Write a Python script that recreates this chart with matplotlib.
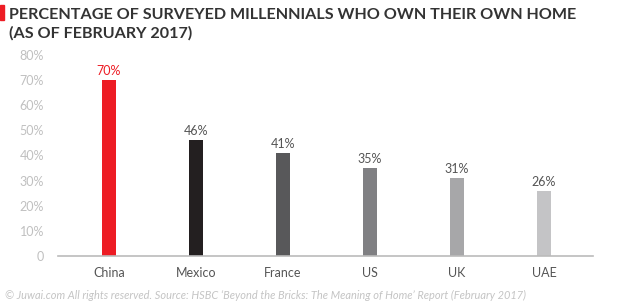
import numpy as np
import matplotlib.pyplot as plt

plt.rcParams['font.family'] = ['Lato', 'DejaVu Sans']

# donnees
countries = ['China', 'Mexico', 'France', 'US', 'UK', 'UAE']
own_home = [70, 46, 41, 35, 31, 26]
bar_colors = ['#ed1c24', '#231f20', '#58585a', '#808083', '#a7a7a9', '#c4c4c6']
y_ticks = [0, 10, 20, 30, 40, 50, 60, 70, 80]
y_labels = ['0', '10%', '20%', '30%', '40%', '50%', '60%', '70%', '80%']

fig = plt.figure(figsize=(6.19, 3.07), dpi=100)
ax = fig.add_axes([58/619, 51/307, 535/619, 201/307])

x = np.arange(len(countries))
ax.bar(x, own_home, width=0.17, color=bar_colors, zorder=2)

for i, v in enumerate(own_home):
    c = '#ed1c24' if i == 0 else '#555555'
    ax.text(x[i], v + 1.2, '%d%%' % v, ha='center', va='bottom', fontsize=9, color=c)

ax.set_xlim(-0.586, 5.563)
ax.set_ylim(0, 80)
ax.set_xticks(x)
ax.set_xticklabels(countries, fontsize=9, color='#555555')
ax.set_yticks(y_ticks)
ax.set_yticklabels(y_labels, fontsize=9, color='#c0c0c0')
ax.tick_params(length=0, pad=10)
ax.tick_params(axis='x', pad=8)

for s in ['top', 'right', 'left']:
    ax.spines[s].set_visible(False)
ax.spines['bottom'].set_color('#bbbbbb')
ax.spines['bottom'].set_linewidth(1.2)

# titre
fig.patches.append(plt.Rectangle((0, 1 - 20/307), 4/619, 15/307, transform=fig.transFigure,
                                 color='#ed1c24', figure=fig))
fig.text(9/619, 1 - 19/307, 'PERCENTAGE OF SURVEYED MILLENNIALS WHO OWN THEIR OWN HOME',
         fontsize=11.6, fontweight='bold', color='#333333', va='baseline')
fig.text(9/619, 1 - 38/307, '(AS OF FEBRUARY 2017)',
         fontsize=11.6, fontweight='bold', color='#333333', va='baseline')

fig.text(5/619, 1 - 299/307,
         "\u00a9 Juwai.com All rights reserved. Source: HSBC \u2018Beyond the Bricks: The Meaning of Home\u2019 Report (February 2017)",
         fontsize=7.9, style='italic', color='#c4c4c4', va='baseline')

fig.savefig('out.png', dpi=100)
